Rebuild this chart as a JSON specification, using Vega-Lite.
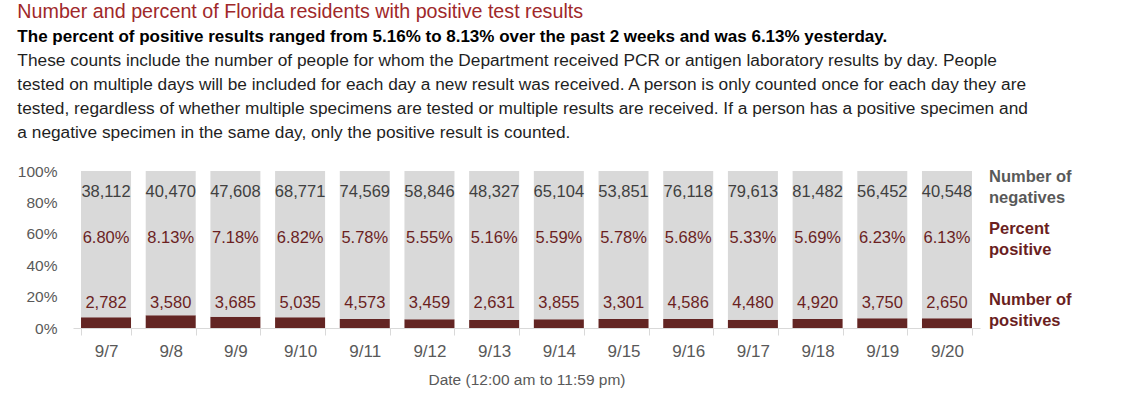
{
  "$schema": "https://vega.github.io/schema/vega-lite/v6.json",
  "padding": {"left": 17, "top": 2, "right": 5, "bottom": 5},
  "background": "white",
  "config": {
    "font": "Liberation Sans",
    "view": {"stroke": null},
    "axis": {"labelOverlap": false},
    "axisY": {"labelOverlap": false, "labelFontSize": 15.5, "labelColor": "#595959", "labelPadding": 16, "domain": false, "ticks": false, "grid": false, "title": null, "values": [0, 0.2, 0.4, 0.6, 0.8, 1], "format": ".0%"}
  },
  "title": {
    "text": "Number and percent of Florida residents with positive test results",
    "subtitle": "The percent of positive results ranged from 5.16% to 8.13% over the past 2 weeks and was 6.13% yesterday.",
    "anchor": "start",
    "frame": "bounds",
    "fontSize": 19.7,
    "fontWeight": "normal",
    "color": "#a0282a",
    "subtitleFontSize": 17,
    "subtitleFontWeight": "bold",
    "subtitleColor": "#000000",
    "subtitlePadding": 7,
    "offset": 7
  },
  "vconcat": [
    {
      "title": {
        "text": [
          "These counts include the number of people for whom the Department received PCR or antigen laboratory results by day. People",
          "tested on multiple days will be included for each day a new result was received. A person is only counted once for each day they are",
          "tested, regardless of whether multiple specimens are tested or multiple results are received. If a person has a positive specimen and",
          "a negative specimen in the same day, only the positive result is counted."
        ],
        "anchor": "start",
        "frame": "bounds",
        "fontSize": 17.3,
        "fontWeight": "normal",
        "color": "#1f1f1f",
        "lineHeight": 24,
        "offset": 23
      },
      "width": 907,
      "height": 157,
      "data": {
        "values": [
          {"date": "9/7", "neg": 38112, "pos": 2782, "pct": 0.0680},
          {"date": "9/8", "neg": 40470, "pos": 3580, "pct": 0.0813},
          {"date": "9/9", "neg": 47608, "pos": 3685, "pct": 0.0718},
          {"date": "9/10", "neg": 68771, "pos": 5035, "pct": 0.0682},
          {"date": "9/11", "neg": 74569, "pos": 4573, "pct": 0.0578},
          {"date": "9/12", "neg": 58846, "pos": 3459, "pct": 0.0555},
          {"date": "9/13", "neg": 48327, "pos": 2631, "pct": 0.0516},
          {"date": "9/14", "neg": 65104, "pos": 3855, "pct": 0.0559},
          {"date": "9/15", "neg": 53851, "pos": 3301, "pct": 0.0578},
          {"date": "9/16", "neg": 76118, "pos": 4586, "pct": 0.0568},
          {"date": "9/17", "neg": 79613, "pos": 4480, "pct": 0.0533},
          {"date": "9/18", "neg": 81482, "pos": 4920, "pct": 0.0569},
          {"date": "9/19", "neg": 56452, "pos": 3750, "pct": 0.0623},
          {"date": "9/20", "neg": 40548, "pos": 2650, "pct": 0.0613}
        ]
      },
      "encoding": {
        "x": {
          "field": "date",
          "type": "ordinal",
          "sort": null,
          "scale": {"paddingInner": 0.227, "paddingOuter": 0.124},
          "axis": {
            "title": "Date (12:00 am to 11:59 pm)",
            "titleFontSize": 15.5,
            "titleFontWeight": "normal",
            "titleColor": "#595959",
            "titlePadding": 13,
            "labelAngle": 0,
            "labelFontSize": 17,
            "labelColor": "#595959",
            "labelPadding": 8,
            "domainColor": "#d9d9d9",
            "tickColor": "#d9d9d9",
            "tickSize": 7,
            "tickBand": "extent"
          }
        }
      },
      "layer": [
        {
          "transform": [{"fold": ["pos", "neg"], "as": ["k", "v"]}],
          "mark": {"type": "bar"},
          "encoding": {
            "y": {
              "field": "v",
              "type": "quantitative",
              "stack": "normalize",
              "scale": {"domain": [0, 1]},
              "axis": {"title": null, "values": [0, 0.2, 0.4, 0.6, 0.8, 1], "format": ".0%", "labelOverlap": false}
            },
            "color": {
              "field": "k",
              "type": "nominal",
              "scale": {"domain": ["pos", "neg"], "range": ["#632523", "#d9d9d9"]},
              "legend": null
            },
            "order": {"field": "k", "sort": "descending"}
          }
        },
        {
          "mark": {"type": "text", "fontSize": 16.5, "color": "#404040"},
          "encoding": {
            "y": {"datum": 0.865, "type": "quantitative", "axis": {"title": null, "values": [0, 0.2, 0.4, 0.6, 0.8, 1], "format": ".0%", "labelOverlap": false}},
            "text": {"field": "neg", "type": "quantitative", "format": ","}
          }
        },
        {
          "mark": {"type": "text", "fontSize": 16.5, "color": "#6b1f1f"},
          "encoding": {
            "y": {"datum": 0.575, "type": "quantitative", "axis": {"title": null, "values": [0, 0.2, 0.4, 0.6, 0.8, 1], "format": ".0%", "labelOverlap": false}},
            "text": {"field": "pct", "type": "quantitative", "format": ".2%"}
          }
        },
        {
          "mark": {"type": "text", "fontSize": 16.5, "color": "#6b1f1f"},
          "encoding": {
            "y": {"datum": 0.16, "type": "quantitative", "axis": {"title": null, "values": [0, 0.2, 0.4, 0.6, 0.8, 1], "format": ".0%", "labelOverlap": false}},
            "text": {"field": "pos", "type": "quantitative", "format": ","}
          }
        },
        {
          "data": {"values": [{"label": "Number of\nnegatives"}]},
          "mark": {"type": "text", "fontSize": 16.5, "fontWeight": "bold", "color": "#595959", "align": "left", "dx": 42, "lineBreak": "\n", "lineHeight": 21},
          "encoding": {
            "x": {"datum": "9/20", "type": "ordinal"},
            "y": {"datum": 0.96, "type": "quantitative", "axis": {"title": null, "values": [0, 0.2, 0.4, 0.6, 0.8, 1], "format": ".0%", "labelOverlap": false}},
            "text": {"field": "label"}
          }
        },
        {
          "data": {"values": [{"label": "Percent\npositive"}]},
          "mark": {"type": "text", "fontSize": 16.5, "fontWeight": "bold", "color": "#6b1f1f", "align": "left", "dx": 42, "lineBreak": "\n", "lineHeight": 21},
          "encoding": {
            "x": {"datum": "9/20", "type": "ordinal"},
            "y": {"datum": 0.63, "type": "quantitative", "axis": {"title": null, "values": [0, 0.2, 0.4, 0.6, 0.8, 1], "format": ".0%", "labelOverlap": false}},
            "text": {"field": "label"}
          }
        },
        {
          "data": {"values": [{"label": "Number of\npositives"}]},
          "mark": {"type": "text", "fontSize": 16.5, "fontWeight": "bold", "color": "#6b1f1f", "align": "left", "dx": 42, "lineBreak": "\n", "lineHeight": 21},
          "encoding": {
            "x": {"datum": "9/20", "type": "ordinal"},
            "y": {"datum": 0.178, "type": "quantitative", "axis": {"title": null, "values": [0, 0.2, 0.4, 0.6, 0.8, 1], "format": ".0%", "labelOverlap": false}},
            "text": {"field": "label"}
          }
        }
      ]
    }
  ]
}
